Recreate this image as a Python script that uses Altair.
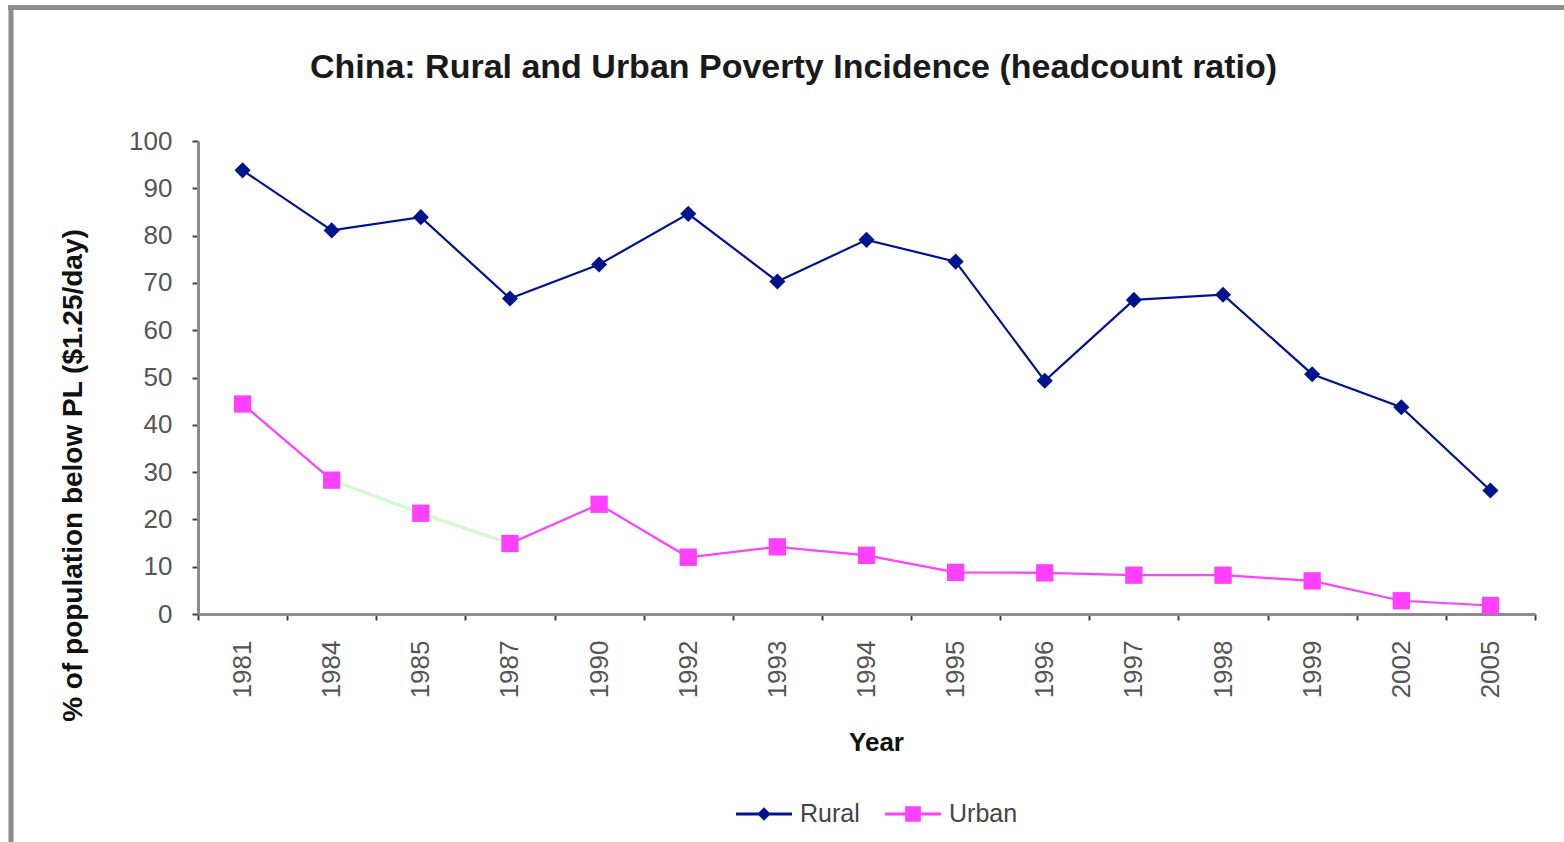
import altair as alt
import pandas as pd

years = ["1981", "1984", "1985", "1987", "1990", "1992", "1993", "1994",
         "1995", "1996", "1997", "1998", "1999", "2002", "2005"]
rural = [93.8, 81.1, 83.9, 66.7, 73.9, 84.6, 70.3, 79.1,
         74.5, 49.3, 66.4, 67.5, 50.7, 43.7, 26.1]
urban = [44.4, 28.3, 21.3, 14.9, 23.2, 12.0, 14.2, 12.4,
         8.8, 8.7, 8.2, 8.2, 7.0, 2.8, 1.8]
series_names = ["Rural", "Urban"]
series_colors = ["#00148f", "#ff40ff"]
green_years = ["1984", "1985", "1987"]
y_ticks = [0, 10, 20, 30, 40, 50, 60, 70, 80, 90, 100]

FONT = "Liberation Sans"

df = pd.DataFrame({"Year": years, "Rural": rural, "Urban": urban})

x_enc = alt.X(
    "Year:N", sort=years, bandPosition=0.5,
    scale=alt.Scale(type="band", paddingInner=0, paddingOuter=0),
    axis=alt.Axis(
        title="Year", titleFont=FONT, titleFontSize=26, titleFontWeight="bold",
        titleColor="#111111", titleX=678, titleY=136, titleAlign="center",
        titleBaseline="alphabetic",
        labelAngle=270, labelFont=FONT, labelFontSize=26, labelColor="#555555",
        labelPadding=20, tickBand="extent", tickSize=6, tickColor="#404040",
        tickWidth=2, domainColor="#8c8c8c", domainWidth=3, grid=False,
    ),
)
y_enc = alt.Y(
    "Value:Q",
    scale=alt.Scale(domain=[0, 100], nice=False, zero=True),
    axis=alt.Axis(
        values=y_ticks, title="% of population below PL ($1.25/day)",
        titleFont=FONT, titleFontSize=28, titleFontWeight="bold", titleColor="#111111",
        titleAngle=270, titleX=-125, titleY=334, titleAlign="center",
        titleBaseline="middle",
        labelFont=FONT, labelFontSize=26, labelColor="#555555", labelPadding=20,
        tickSize=6, tickColor="#404040", tickWidth=2,
        domainColor="#8c8c8c", domainWidth=3, grid=False,
    ),
)

base = alt.Chart(df).transform_fold(["Rural", "Urban"], as_=["Series", "Value"])

rural_line = base.transform_filter(alt.datum.Series == "Rural").mark_line(
    color=series_colors[0], strokeWidth=2.2).encode(x=x_enc, y=y_enc)
urban_line = base.transform_filter(alt.datum.Series == "Urban").mark_line(
    color=series_colors[1], strokeWidth=2.2).encode(x=x_enc, y=y_enc)
green_line = base.transform_filter(alt.datum.Series == "Urban").transform_filter(
    alt.FieldOneOfPredicate(field="Year", oneOf=green_years)
).mark_line(color="#ccffcc", strokeWidth=3).encode(x=x_enc, y=y_enc)
rural_pts = base.transform_filter(alt.datum.Series == "Rural").mark_point(
    shape="diamond", filled=True, size=260, color=series_colors[0], opacity=1
).encode(x=x_enc, y=y_enc)
urban_pts = base.transform_filter(alt.datum.Series == "Urban").mark_point(
    shape="square", filled=True, size=300, color=series_colors[1], opacity=1
).encode(x=x_enc, y=y_enc)

rural_sym = ("M-1,-0.055 L1,-0.055 L1,0.055 L-1,0.055 Z "
             "M0,-0.24 L0.24,0 L0,0.24 L-0.24,0 Z")
urban_sym = ("M-1,-0.055 L1,-0.055 L1,0.055 L-1,0.055 Z "
             "M-0.28,-0.28 L0.28,-0.28 L0.28,0.28 L-0.28,0.28 Z")

leg = alt.Legend(
    title=None, orient="none", legendX=538, legendY=645, direction="horizontal",
    symbolSize=3136, symbolStrokeWidth=0, labelFont=FONT, labelFontSize=25,
    labelColor="#444444", labelOffset=8, columnPadding=25, padding=0,
)
legend_layer = base.transform_filter("false").mark_point(filled=True, opacity=1).encode(
    color=alt.Color("Series:N", scale=alt.Scale(domain=series_names, range=series_colors), legend=leg),
    shape=alt.Shape("Series:N", scale=alt.Scale(domain=series_names, range=[rural_sym, urban_sym]), legend=leg),
)

frame_data = pd.DataFrame({"d": [0]})
top_border = alt.Chart(frame_data).mark_rule(color="#8c8c8c", strokeWidth=5).encode(
    x=alt.value(-190), x2=alt.value(1370), y=alt.value(-133.5))
left_border = alt.Chart(frame_data).mark_rule(color="#8c8c8c", strokeWidth=5).encode(
    x=alt.value(-187), y=alt.value(-136), y2=alt.value(705))

chart = alt.layer(
    top_border, left_border, rural_line, urban_line, green_line,
    rural_pts, urban_pts, legend_layer,
).properties(
    width=1337, height=473,
    title=alt.Title(
        "China: Rural and Urban Poverty Incidence (headcount ratio)",
        font=FONT, fontSize=34, fontWeight="bold", color="#1a1a1a",
        anchor="middle", frame="group", dx=-73, offset=0, dy=109,
        baseline="alphabetic",
    ),
    autosize=alt.AutoSizeParams(type="none"),
    padding={"left": 198, "top": 141, "right": 29, "bottom": 228},
    background="white",
).configure_view(stroke=None)

chart.save("out.html", embed_options={"renderer": "svg", "actions": False})
